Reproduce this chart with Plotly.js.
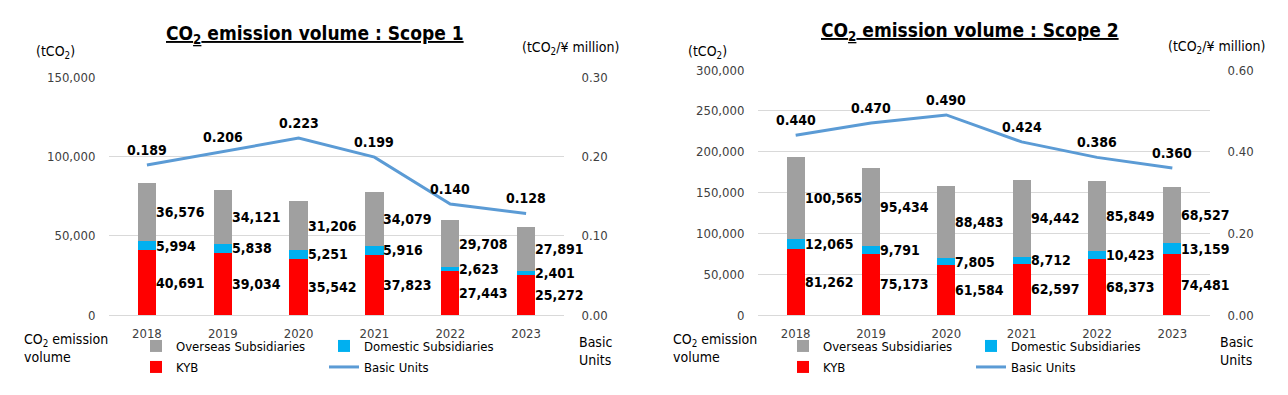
<!DOCTYPE html>
<html>
<head>
<meta charset="utf-8">
<script src="https://cdn.plot.ly/plotly-3.0.1.min.js"></script>
<style>html,body{margin:0;padding:0;background:#fff;}#chart{width:1288px;height:395px;}</style>
</head>
<body>
<div id="chart"></div>
<script>
const years = ['2018', '2019', '2020', '2021', '2022', '2023'];

const s1KYB      = [40691, 39034, 35542, 37823, 27443, 25272];
const s1Domestic = [5994, 5838, 5251, 5916, 2623, 2401];
const s1Overseas = [36576, 34121, 31206, 34079, 29708, 27891];
const s1Basic    = [0.189, 0.206, 0.223, 0.199, 0.140, 0.128];

const s2KYB      = [81262, 75173, 61584, 62597, 68373, 74481];
const s2Domestic = [12065, 9791, 7805, 8712, 10423, 13159];
const s2Overseas = [100565, 95434, 88483, 94442, 85849, 68527];
const s2Basic    = [0.440, 0.470, 0.490, 0.424, 0.386, 0.360];

const FONT = '"DejaVu Sans Condensed", "DejaVu Sans", sans-serif';
const W = 1288, H = 395;
const px = v => v / W;
const py = v => (H - v) / H;

const C_OVER = '#a0a0a0', C_DOM = '#00b0f0', C_KYB = '#ff0000', C_LINE = '#5b9bd5';

function chartTraces(kyb, dom, over, basic, xa, ya, ya2, legA, legB) {
  return [
    {type: 'bar', name: 'KYB', x: years, y: kyb, marker: {color: C_KYB}, xaxis: xa, yaxis: ya, legend: legB, legendrank: 1, hoverinfo: 'skip'},
    {type: 'bar', name: 'Domestic Subsidiaries', x: years, y: dom, marker: {color: C_DOM}, xaxis: xa, yaxis: ya, legend: legA, legendrank: 2, hoverinfo: 'skip'},
    {type: 'bar', name: 'Overseas Subsidiaries', x: years, y: over, marker: {color: C_OVER}, xaxis: xa, yaxis: ya, legend: legA, legendrank: 1, hoverinfo: 'skip'},
    {type: 'scatter', mode: 'lines', name: 'Basic Units', x: years, y: basic, line: {color: C_LINE, width: 3}, xaxis: xa, yaxis: ya2, legend: legB, legendrank: 2, hoverinfo: 'skip'}
  ];
}

const data = [].concat(
  chartTraces(s1KYB, s1Domestic, s1Overseas, s1Basic, 'x', 'y', 'y2', 'legend', 'legend2'),
  chartTraces(s2KYB, s2Domestic, s2Overseas, s2Basic, 'x2', 'y3', 'y4', 'legend3', 'legend4')
);

const fmt = v => v.toLocaleString('en-US');
const annotations = [];

function segLabels(kyb, dom, over, basic, xr, yr, yr2) {
  years.forEach((yname, i) => {
    const segs = [[kyb[i], 0], [dom[i], kyb[i]], [over[i], kyb[i] + dom[i]]];
    segs.forEach(([v, base]) => {
      annotations.push({xref: xr, yref: yr, x: i, y: base + v / 2, text: '<b>' + fmt(v) + '</b>',
        showarrow: false, xanchor: 'left', yanchor: 'middle', xshift: 7,
        font: {family: FONT, size: 14, color: '#000'}});
    });
    annotations.push({xref: xr, yref: yr2, x: i, y: basic[i], text: '<b>' + basic[i].toFixed(3) + '</b>',
      showarrow: false, xanchor: 'center', yanchor: 'bottom', yshift: 5,
      font: {family: FONT, size: 14, color: '#000'}});
  });
}
segLabels(s1KYB, s1Domestic, s1Overseas, s1Basic, 'x', 'y', 'y2');
segLabels(s2KYB, s2Domestic, s2Overseas, s2Basic, 'x2', 'y3', 'y4');

function txt(text, x, y, opts) {
  annotations.push(Object.assign({xref: 'paper', yref: 'paper', x: px(x), y: py(y), text: text, showarrow: false,
    xanchor: 'center', yanchor: 'middle', font: {family: FONT, size: 14, color: '#000'}}, opts || {}));
}
// titles
txt('<b><u>CO<sub>2</sub> emission volume : Scope 1</u></b>', 315, 34, {font: {family: FONT, size: 19, color: '#000'}});
txt('<b><u>CO<sub>2</sub> emission volume : Scope 2</u></b>', 970, 32, {font: {family: FONT, size: 19, color: '#000'}});
// unit labels
txt('(tCO<sub>2</sub>)', 55, 52);
txt('(tCO<sub>2</sub>/¥ million)', 570, 48);
txt('(tCO<sub>2</sub>)', 707, 52);
txt('(tCO<sub>2</sub>/¥ million)', 1216, 47);
txt('CO<sub>2</sub> emission<br>volume', 22, 348, {xanchor: 'left', align: 'left'});
txt('Basic<br>Units', 577, 351, {xanchor: 'left', align: 'left'});
txt('CO<sub>2</sub> emission<br>volume', 671, 348, {xanchor: 'left', align: 'left'});
txt('Basic<br>Units', 1218, 351, {xanchor: 'left', align: 'left'});

const tickFont = {family: FONT, size: 13, color: '#404040'};
const legFont = {family: FONT, size: 13, color: '#000'};
function leg(x, y) {
  return {x: px(x), y: py(y), xanchor: 'left', yanchor: 'middle', orientation: 'h', font: legFont,
    bgcolor: 'rgba(0,0,0,0)', entrywidth: 143, entrywidthmode: 'pixels', itemclick: false, itemdoubleclick: false,
    traceorder: 'normal'};
}

const gx = {type: 'category', range: [-0.5, 5.5], autorange: false, tickfont: tickFont, ticks: 'outside', ticklen: 6, tickcolor: 'rgba(0,0,0,0)', showgrid: false, showline: false, zeroline: false, fixedrange: true};
const gy = {tickfont: tickFont, tickformat: ',', ticks: 'outside', ticklen: 10, tickcolor: 'rgba(0,0,0,0)', gridcolor: '#d9d9d9', gridwidth: 1, zeroline: true, zerolinecolor: '#d9d9d9', zerolinewidth: 1, showline: false, fixedrange: true};
const gy2 = {tickfont: tickFont, tickformat: '.2f', ticks: 'outside', ticklen: 14, tickcolor: 'rgba(0,0,0,0)', showgrid: false, zeroline: false, showline: false, side: 'right', fixedrange: true};

const layout = {
  width: W, height: H,
  margin: {l: 0, r: 0, t: 0, b: 0},
  paper_bgcolor: '#fff', plot_bgcolor: 'rgba(0,0,0,0)',
  barmode: 'stack', bargap: 0.76,
  showlegend: true,
  font: {family: FONT},
  xaxis: Object.assign({}, gx, {domain: [px(109), px(564)], anchor: 'y'}),
  yaxis: Object.assign({}, gy, {domain: [py(315), py(77)], range: [0, 150000], dtick: 50000, anchor: 'x'}),
  yaxis2: Object.assign({}, gy2, {overlaying: 'y', range: [0, 0.3], dtick: 0.1, anchor: 'x'}),
  xaxis2: Object.assign({}, gx, {domain: [px(758), px(1210)], anchor: 'y3'}),
  yaxis3: Object.assign({}, gy, {domain: [py(315), py(70)], range: [0, 300000], dtick: 50000, anchor: 'x2'}),
  yaxis4: Object.assign({}, gy2, {overlaying: 'y3', range: [0, 0.6], dtick: 0.2, anchor: 'x2'}),
  legend: leg(136, 346),
  legend2: leg(136, 367),
  legend3: leg(783, 346),
  legend4: leg(783, 367),
  annotations: annotations
};

Plotly.newPlot('chart', data, layout, {displayModeBar: false, staticPlot: true});
</script>
</body>
</html>
